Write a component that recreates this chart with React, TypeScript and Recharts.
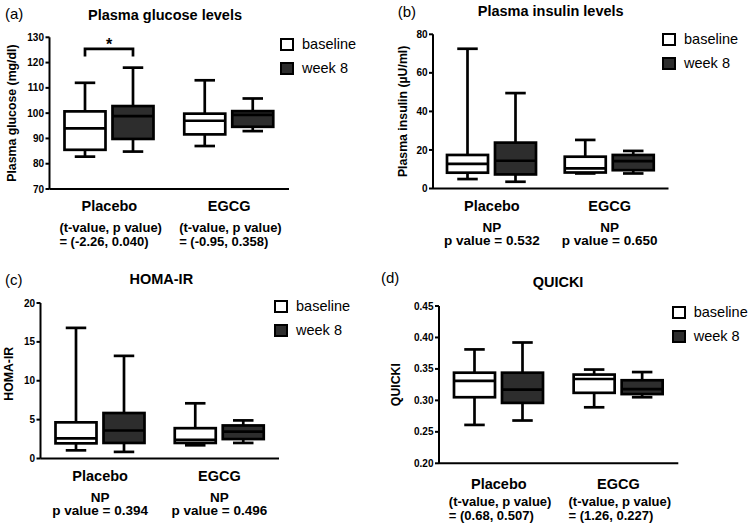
import { BarChart, Bar, XAxis, YAxis, Legend, Label } from "recharts";

const FONT = "'Liberation Sans', Arial, Helvetica, sans-serif";

const groups = ["Placebo", "EGCG"];
const seriesNames = ["baseline", "week 8"];
const seriesFills = ["#ffffff", "#2d2d2d"];

// five-number summaries per group: [min, Q1, median, Q3, max]
const glucoseBaseline = [
  [82.8, 85.5, 94, 100.7, 112],
  [87, 91.6, 97, 99.8, 113],
];
const glucoseWeek8 = [
  [84.8, 89.8, 98.8, 102.8, 118],
  [92.9, 94.6, 99.3, 100.8, 105.8],
];
const glucoseTicks = [70, 80, 90, 100, 110, 120, 130];
const glucoseNotes = [
  ["(t-value, p value)", "= (-2.26, 0.040)"],
  ["(t-value, p value)", "= (-0.95, 0.358)"],
];
const glucoseSig = [125.4, null];

const insulinBaseline = [
  [4.9, 8.2, 12.8, 17.4, 72.5],
  [7.8, 8.3, 10.4, 16.5, 25.2],
];
const insulinWeek8 = [
  [3.5, 7.3, 14.4, 23.8, 49.5],
  [7.8, 9.5, 14.2, 17.4, 19.5],
];
const insulinTicks = [0, 20, 40, 60, 80];
const insulinNotes = [
  ["NP", "p value = 0.532"],
  ["NP", "p value = 0.650"],
];

const homaBaseline = [
  [1.05, 1.95, 2.6, 4.65, 16.8],
  [1.7, 2.0, 2.4, 3.9, 7.1],
];
const homaWeek8 = [
  [0.85, 2.0, 3.6, 5.85, 13.2],
  [2.0, 2.5, 3.45, 4.25, 4.9],
];
const homaTicks = [0, 5, 10, 15, 20];
const homaNotes = [
  ["NP", "p value = 0.394"],
  ["NP", "p value = 0.496"],
];

const quickiBaseline = [
  [0.261, 0.305, 0.331, 0.344, 0.381],
  [0.289, 0.312, 0.334, 0.341, 0.349],
];
const quickiWeek8 = [
  [0.268, 0.296, 0.317, 0.344, 0.392],
  [0.305, 0.31, 0.318, 0.332, 0.345],
];
const quickiTicks = [0.2, 0.25, 0.3, 0.35, 0.4, 0.45];
const quickiNotes = [
  ["(t-value, p value)", "= (0.68, 0.507)"],
  ["(t-value, p value)", "= (1.26, 0.227)"],
];

const BAR_SIZE = 41;
const BAR_GAP = 7;
const STROKE = 2.7;

type Row = {
  group: string;
  baseline: number[];
  week8: number[];
  notes: string[];
  sig: number | null;
};

function makeRows(baseline: number[][], week8: number[][], notes: string[][], sig?: (number | null)[]): Row[] {
  return groups.map((g, i) => ({
    group: g,
    baseline: baseline[i],
    week8: week8[i],
    notes: notes[i],
    sig: sig ? sig[i] : null,
  }));
}

// draws a box-and-whisker from a range bar spanning [min, max]
const boxShape = (key: "baseline" | "week8", fill: string) => (props: any) => {
  const { x, y, width, height, payload } = props;
  const [mn, q1, md, q3, mx] = payload[key];
  const toY = (v: number) => y + (height * (mx - v)) / (mx - mn);
  const cx = x + width / 2;
  const cap = width / 4;
  let bracket = null;
  if (key === "week8" && payload.sig != null) {
    const left = cx - (width + BAR_GAP);
    const by = toY(payload.sig);
    bracket = (
      <g>
        <path d={`M${left},${by + 7.5} V${by} H${cx} V${by + 7.5}`} fill="none" />
        <text
          x={(left + cx) / 2}
          y={by + 1.5}
          textAnchor="middle"
          fontSize={16}
          fontWeight="bold"
          fontFamily={FONT}
          fill="#000"
          stroke="none"
        >
          *
        </text>
      </g>
    );
  }
  return (
    <g stroke="#000" strokeWidth={STROKE} fill="none">
      <line x1={cx} x2={cx} y1={toY(mx)} y2={toY(q3)} />
      <line x1={cx} x2={cx} y1={toY(q1)} y2={toY(mn)} />
      <line x1={cx - cap} x2={cx + cap} y1={toY(mx)} y2={toY(mx)} />
      <line x1={cx - cap} x2={cx + cap} y1={toY(mn)} y2={toY(mn)} />
      <rect x={x} y={toY(q3)} width={width} height={toY(q1) - toY(q3)} fill={fill} />
      <line x1={x} x2={x + width} y1={toY(md)} y2={toY(md)} />
      {bracket}
    </g>
  );
};

const makeGroupTick = (rows: Row[], nameDy: number, leftAlign: boolean, noteSize: number) => (props: any) => {
  const { x, y, payload } = props;
  const lines = rows[payload.index]?.notes ?? [];
  return (
    <g fontFamily={FONT} fontWeight="bold" fill="#000">
      <text x={x} y={y + nameDy} textAnchor="middle" fontSize={14.5}>
        {payload.value}
      </text>
      {lines.map((t, i) => (
        <text
          key={i}
          x={leftAlign ? x - 50 : x}
          y={y + 43 + i * 13.8}
          textAnchor={leftAlign ? "start" : "middle"}
          fontSize={noteSize}
        >
          {t}
        </text>
      ))}
    </g>
  );
};

const legendContent = (props: any) => {
  const items = props.payload ?? [];
  return (
    <div style={{ fontFamily: FONT, fontSize: 14.5, color: "#000" }}>
      {items.map((e: any, i: number) => (
        <div key={i} style={{ display: "flex", alignItems: "center", height: 24 }}>
          <span
            style={{
              width: 10,
              height: 9,
              flexShrink: 0,
              border: "2.5px solid #000",
              background: seriesFills[i] ?? e.color,
              marginRight: 8,
            }}
          />
          <span>{e.value}</span>
        </div>
      ))}
    </div>
  );
};

type PanelProps = {
  left: number;
  top: number;
  w: number;
  h: number;
  plot: { l: number; r: number; t: number; b: number };
  letter: string;
  letterPos: [number, number];
  title: string;
  titlePos: [number, number];
  yLabel: string;
  yLabelX: number;
  yLabelShift: number;
  rows: Row[];
  ticks: number[];
  digits: number;
  nameDy: number;
  leftNotes: boolean;
  noteSize: number;
  legendPos: [number, number];
};

function Panel(p: PanelProps) {
  return (
    <div style={{ position: "absolute", left: p.left, top: p.top, width: p.w, height: p.h }}>
      <div
        style={{
          position: "absolute",
          left: p.letterPos[0],
          top: p.letterPos[1],
          transform: "translateY(-50%)",
          fontSize: 15,
          lineHeight: 1,
          whiteSpace: "nowrap",
        }}
      >
        {p.letter}
      </div>
      <div
        style={{
          position: "absolute",
          left: p.titlePos[0],
          top: p.titlePos[1],
          transform: "translate(-50%, -50%)",
          fontSize: 14.5,
          fontWeight: "bold",
          lineHeight: 1,
          whiteSpace: "nowrap",
        }}
      >
        {p.title}
      </div>
      <BarChart
        width={p.w}
        height={p.h}
        data={p.rows}
        barSize={BAR_SIZE}
        barGap={BAR_GAP}
        margin={{ top: p.plot.t, right: p.w - p.plot.r, bottom: 0, left: 0 }}
      >
        <XAxis
          dataKey="group"
          height={p.h - p.plot.b}
          tickLine={false}
          tickSize={0}
          tickMargin={0}
          interval={0}
          axisLine={{ stroke: "#000", strokeWidth: 2 }}
          tick={makeGroupTick(p.rows, p.nameDy, p.leftNotes, p.noteSize)}
        />
        <YAxis
          width={p.plot.l}
          type="number"
          domain={[p.ticks[0], p.ticks[p.ticks.length - 1]]}
          ticks={p.ticks}
          interval={0}
          tickSize={4}
          tickMargin={1.5}
          tickFormatter={(v: number) => v.toFixed(p.digits)}
          axisLine={{ stroke: "#000", strokeWidth: 2 }}
          tickLine={{ stroke: "#000", strokeWidth: 2 }}
          tick={{ fill: "#000", fontSize: 10, fontWeight: "bold", fontFamily: FONT }}
        >
          <Label
            content={(lp: any) => {
              const vb = lp.viewBox ?? { y: p.plot.t, height: p.plot.b - p.plot.t };
              const cy = vb.y + vb.height / 2 + p.yLabelShift;
              return (
                <text
                  x={p.yLabelX}
                  y={cy}
                  transform={`rotate(-90 ${p.yLabelX} ${cy})`}
                  textAnchor="middle"
                  dominantBaseline="central"
                  fontSize={12.3}
                  fontWeight="bold"
                  fontFamily={FONT}
                  fill="#000"
                >
                  {p.yLabel}
                </text>
              );
            }}
          />
        </YAxis>
        <Legend
          layout="horizontal"
          align="center"
          verticalAlign="middle"
          content={legendContent}
          wrapperStyle={{ left: p.legendPos[0], top: p.legendPos[1] - 5, width: 110, height: 48 }}
        />
        <Bar
          dataKey={(r: Row) => [r.baseline[0], r.baseline[4]]}
          name={seriesNames[0]}
          fill={seriesFills[0]}
          shape={boxShape("baseline", seriesFills[0])}
          isAnimationActive={false}
        />
        <Bar
          dataKey={(r: Row) => [r.week8[0], r.week8[4]]}
          name={seriesNames[1]}
          fill={seriesFills[1]}
          shape={boxShape("week8", seriesFills[1])}
          isAnimationActive={false}
        />
      </BarChart>
    </div>
  );
}

export default function App() {
  return (
    <div
      style={{
        position: "absolute",
        left: 0,
        top: 0,
        width: 753,
        height: 525,
        background: "#fff",
        fontFamily: FONT,
        color: "#000",
        overflow: "hidden",
      }}
    >
      <Panel
        left={0}
        top={0}
        w={376}
        h={262}
        plot={{ l: 49.5, r: 289, t: 37.3, b: 189 }}
        letter="(a)"
        letterPos={[5, 13]}
        title="Plasma glucose levels"
        titlePos={[165, 15]}
        yLabel="Plasma glucose (mg/dl)"
        yLabelX={11.7}
        yLabelShift={0}
        rows={makeRows(glucoseBaseline, glucoseWeek8, glucoseNotes, glucoseSig)}
        ticks={glucoseTicks}
        digits={0}
        nameDy={22}
        leftNotes={true}
        noteSize={13}
        legendPos={[280, 37]}
      />
      <Panel
        left={376}
        top={0}
        w={377}
        h={262}
        plot={{ l: 57, r: 292.5, t: 34.3, b: 188.5 }}
        letter="(b)"
        letterPos={[21.7, 10.8]}
        title="Plasma insulin levels"
        titlePos={[174.7, 10.5]}
        yLabel="Plasma insulin (µU/ml)"
        yLabelX={27.3}
        yLabelShift={0}
        rows={makeRows(insulinBaseline, insulinWeek8, insulinNotes)}
        ticks={insulinTicks}
        digits={0}
        nameDy={22}
        leftNotes={false}
        noteSize={13.5}
        legendPos={[286, 32.3]}
      />
      <Panel
        left={0}
        top={262}
        w={376}
        h={263}
        plot={{ l: 40.5, r: 279, t: 41, b: 196.5 }}
        letter="(c)"
        letterPos={[5, 16.7]}
        title="HOMA-IR"
        titlePos={[161.3, 16.7]}
        yLabel="HOMA-IR"
        yLabelX={8.7}
        yLabelShift={-7}
        rows={makeRows(homaBaseline, homaWeek8, homaNotes)}
        ticks={homaTicks}
        digits={0}
        nameDy={22}
        leftNotes={false}
        noteSize={13.5}
        legendPos={[274, 37.3]}
      />
      <Panel
        left={376}
        top={262}
        w={377}
        h={263}
        plot={{ l: 63, r: 302.3, t: 44, b: 201.3 }}
        letter="(d)"
        letterPos={[5, 15]}
        title="QUICKI"
        titlePos={[182, 20]}
        yLabel="QUICKI"
        yLabelX={20}
        yLabelShift={0}
        rows={makeRows(quickiBaseline, quickiWeek8, quickiNotes)}
        ticks={quickiTicks}
        digits={2}
        nameDy={25.5}
        leftNotes={true}
        noteSize={13}
        legendPos={[295.7, 43.3]}
      />
    </div>
  );
}
